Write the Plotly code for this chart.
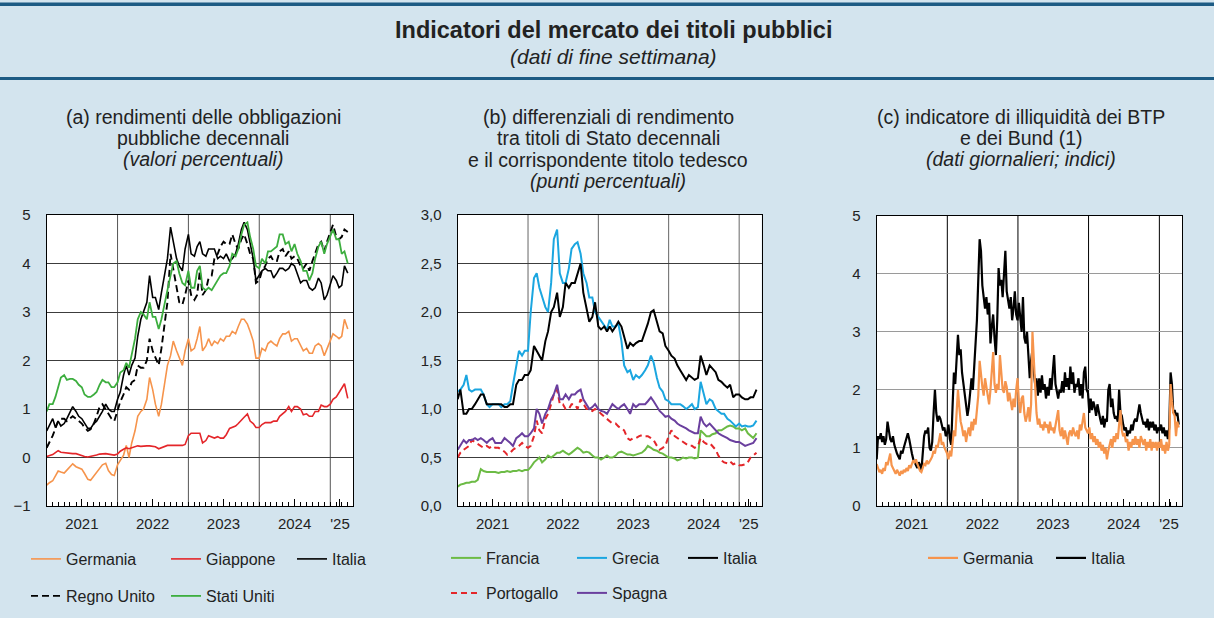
import plotly.graph_objects as go
import pandas as pd

W, H = 1214, 618

# semi-monthly observation dates (1st and 15th of each month) for panels (a) and (b)
DATES = list(pd.date_range("2021-01-01", "2025-04-01", freq="SMS").strftime("%Y-%m-%d"))
# weekly observation dates for panel (c)
DATES_C = list(pd.date_range("2021-01-01", periods=224, freq="7D").strftime("%Y-%m-%d"))

# ---------------- panel (a): 10-year government bond yields (%) ----------------
A_GERMANIA = [
    -0.57, -0.52, -0.48, -0.38, -0.28, -0.30, -0.32, -0.26, -0.20, -0.13, -0.19, -0.22,
    -0.24, -0.33, -0.45, -0.47, -0.38, -0.30, -0.20, -0.15, -0.12, -0.27, -0.35, -0.37,
    -0.15, -0.05, 0.05, 0.25, 0.00, 0.30, 0.55, 0.85, 0.95, 1.00, 1.20, 1.65,
    1.40, 1.10, 0.85, 1.10, 1.55, 1.90, 2.10, 2.40, 2.20, 2.05, 1.90, 2.20,
    2.45, 2.20, 2.25, 2.45, 2.70, 2.20, 2.30, 2.45, 2.30, 2.40, 2.35, 2.45,
    2.40, 2.50, 2.50, 2.60, 2.55, 2.70, 2.85, 2.85, 2.75, 2.60, 2.40, 2.05,
    2.05, 2.25, 2.20, 2.35, 2.40, 2.35, 2.30, 2.45, 2.55, 2.55, 2.60, 2.40,
    2.45, 2.45, 2.30, 2.20, 2.25, 2.15, 2.15, 2.30, 2.35, 2.30, 2.10, 2.25,
    2.40, 2.55, 2.50, 2.45, 2.50, 2.85, 2.65]
A_GIAPPONE = [
    0.02, 0.04, 0.06, 0.10, 0.14, 0.11, 0.10, 0.09, 0.09, 0.08, 0.08, 0.06,
    0.05, 0.02, 0.01, 0.02, 0.03, 0.05, 0.07, 0.08, 0.08, 0.07, 0.06, 0.05,
    0.07, 0.13, 0.17, 0.20, 0.18, 0.20, 0.22, 0.24, 0.23, 0.24, 0.24, 0.24,
    0.23, 0.22, 0.18, 0.20, 0.24, 0.25, 0.25, 0.25, 0.25, 0.25, 0.25, 0.27,
    0.45, 0.50, 0.50, 0.50, 0.50, 0.30, 0.35, 0.45, 0.42, 0.40, 0.43, 0.40,
    0.40, 0.47, 0.60, 0.62, 0.65, 0.70, 0.78, 0.83, 0.90, 0.75, 0.70, 0.62,
    0.62, 0.68, 0.72, 0.72, 0.72, 0.75, 0.75, 0.85, 0.90, 0.95, 1.05, 0.95,
    1.05, 1.05, 1.00, 0.88, 0.90, 0.85, 0.85, 0.95, 0.95, 1.08, 1.05, 1.05,
    1.10, 1.20, 1.25, 1.35, 1.45, 1.52, 1.22]
A_ITALIA = [
    0.55, 0.65, 0.80, 0.62, 0.75, 0.65, 0.70, 0.80, 0.95, 1.05, 0.95, 0.85,
    0.80, 0.70, 0.60, 0.60, 0.70, 0.75, 0.85, 0.95, 1.10, 1.00, 0.95, 0.95,
    1.20, 1.35, 1.70, 1.90, 1.70, 1.90, 2.05, 2.50, 2.85, 3.00, 3.20, 3.75,
    3.30, 3.30, 3.05, 3.40, 3.80, 4.10, 4.75, 4.45, 4.10, 3.95, 3.85, 4.30,
    4.60, 4.20, 4.15, 4.35, 4.45, 4.20, 4.15, 4.30, 4.30, 4.30, 4.10, 4.15,
    4.10, 4.20, 4.05, 4.10, 4.20, 4.40, 4.70, 4.85, 4.70, 4.40, 4.10, 3.65,
    3.75, 3.85, 3.90, 3.85, 3.85, 3.70, 3.80, 3.90, 3.90, 3.85, 3.90, 4.00,
    3.95, 3.80, 3.60, 3.65, 3.65, 3.50, 3.45, 3.50, 3.70, 3.60, 3.25, 3.35,
    3.55, 3.75, 3.65, 3.50, 3.55, 3.95, 3.80]
A_REGNO_UNITO = [
    0.20, 0.30, 0.45, 0.60, 0.75, 0.80, 0.80, 0.75, 0.80, 0.85, 0.80, 0.75,
    0.70, 0.62, 0.55, 0.58, 0.70, 0.85, 1.05, 1.10, 1.00, 0.90, 0.80, 0.75,
    0.95, 1.15, 1.30, 1.45, 1.40, 1.55, 1.60, 1.90, 1.85, 1.85, 2.00, 2.45,
    2.20, 2.05, 1.90, 2.25, 2.80, 3.20, 4.20, 3.90, 3.55, 3.20, 3.15, 3.35,
    3.65, 3.35, 3.25, 3.35, 3.85, 3.35, 3.45, 3.70, 3.75, 4.10, 4.20, 4.35,
    4.45, 4.40, 4.40, 4.60, 4.40, 4.30, 4.50, 4.60, 4.40, 4.20, 4.10, 3.60,
    3.65, 3.85, 3.95, 4.10, 4.15, 4.05, 4.05, 4.25, 4.30, 4.15, 4.25, 4.10,
    4.15, 4.10, 3.95, 3.90, 4.00, 3.85, 4.05, 4.20, 4.40, 4.45, 4.25, 4.45,
    4.65, 4.80, 4.55, 4.50, 4.55, 4.70, 4.65]
A_STATI_UNITI = [
    0.95, 1.10, 1.10, 1.25, 1.45, 1.65, 1.70, 1.60, 1.62, 1.62, 1.58, 1.50,
    1.45, 1.30, 1.25, 1.25, 1.30, 1.35, 1.50, 1.60, 1.55, 1.55, 1.45, 1.45,
    1.55, 1.75, 1.80, 1.95, 1.85, 2.15, 2.45, 2.85, 3.00, 2.95, 2.85, 3.20,
    2.90, 2.90, 2.65, 2.85, 3.15, 3.45, 3.75, 4.00, 4.05, 3.80, 3.60, 3.55,
    3.85, 3.50, 3.50, 3.85, 3.95, 3.50, 3.45, 3.50, 3.45, 3.55, 3.65, 3.75,
    3.80, 3.80, 3.95, 4.20, 4.15, 4.30, 4.60, 4.80, 4.85, 4.55, 4.30, 3.95,
    3.90, 4.10, 4.00, 4.25, 4.25, 4.30, 4.35, 4.60, 4.60, 4.40, 4.45, 4.25,
    4.40, 4.20, 4.05, 3.85, 3.85, 3.65, 3.80, 4.10, 4.35, 4.45, 4.20, 4.40,
    4.55, 4.70, 4.50, 4.50, 4.20, 4.25, 4.00]

# ---------------- panel (b): spreads vs German Bund (percentage points) ----------------
B_FRANCIA = [
    0.20, 0.22, 0.23, 0.24, 0.24, 0.25, 0.25, 0.27, 0.38, 0.36, 0.35, 0.35,
    0.35, 0.35, 0.34, 0.35, 0.35, 0.36, 0.35, 0.36, 0.36, 0.37, 0.36, 0.37,
    0.37, 0.40, 0.45, 0.48, 0.50, 0.45, 0.48, 0.52, 0.50, 0.52, 0.55, 0.55,
    0.57, 0.55, 0.53, 0.55, 0.58, 0.60, 0.58, 0.55, 0.56, 0.55, 0.52, 0.50,
    0.50, 0.48, 0.50, 0.52, 0.50, 0.50, 0.52, 0.55, 0.56, 0.55, 0.53, 0.53,
    0.52, 0.53, 0.54, 0.55, 0.58, 0.62, 0.60, 0.58, 0.57, 0.55, 0.54, 0.52,
    0.50, 0.50, 0.49, 0.47, 0.48, 0.50, 0.49, 0.50, 0.50, 0.49, 0.50, 0.78,
    0.75, 0.72, 0.72, 0.74, 0.75, 0.78, 0.78, 0.80, 0.82, 0.83, 0.82, 0.80,
    0.80, 0.78, 0.80, 0.75, 0.72, 0.70, 0.75]
B_GRECIA = [
    1.18, 1.20, 1.25, 1.35, 1.20, 1.18, 1.20, 1.20, 1.20, 1.15, 1.05, 1.02,
    1.05, 1.05, 1.05, 1.02, 1.05, 1.05, 1.08, 1.25, 1.45, 1.60, 1.55, 1.60,
    1.60, 2.00, 2.35, 2.40, 2.25, 2.15, 2.05, 2.00, 2.30, 2.75, 2.85, 2.40,
    2.30, 2.30, 2.45, 2.65, 2.70, 2.72, 2.60, 2.40, 2.30, 2.15, 2.15, 2.00,
    1.95, 1.90, 1.85, 1.82, 1.92, 1.85, 1.85, 1.88, 1.70, 1.45, 1.38, 1.40,
    1.30, 1.35, 1.32, 1.35, 1.40, 1.45, 1.55, 1.48, 1.32, 1.22, 1.18, 1.10,
    1.08, 1.05, 1.05, 1.05, 1.05, 1.03, 1.00, 1.02, 1.05, 1.00, 1.02, 1.28,
    1.15, 1.05, 1.10, 1.08, 1.00, 0.98, 0.95, 0.95, 0.90, 0.88, 0.85, 0.82,
    0.85, 0.82, 0.83, 0.82, 0.82, 0.83, 0.88]
B_ITALIA = [
    1.10, 1.20, 0.95, 0.95, 1.00, 1.00, 1.05, 1.10, 1.15, 1.15, 1.05, 1.05,
    1.05, 1.05, 1.05, 1.05, 1.02, 1.02, 1.05, 1.05, 1.25, 1.30, 1.30, 1.35,
    1.35, 1.40, 1.65, 1.60, 1.55, 1.50, 1.70, 1.80, 2.00, 2.05, 2.20, 1.95,
    2.05, 2.30, 2.25, 2.30, 2.30, 2.40, 2.50, 2.20, 2.05, 1.90, 1.95, 2.10,
    1.85, 1.82, 1.85, 1.80, 1.85, 1.80, 1.85, 1.90, 1.85, 1.75, 1.62, 1.68,
    1.65, 1.68, 1.70, 1.70, 1.80, 1.88, 2.00, 2.02, 1.90, 1.80, 1.78, 1.65,
    1.60, 1.55, 1.52, 1.45, 1.40, 1.35, 1.30, 1.35, 1.32, 1.30, 1.32, 1.55,
    1.45, 1.35, 1.45, 1.42, 1.38, 1.30, 1.28, 1.25, 1.22, 1.25, 1.12, 1.15,
    1.15, 1.12, 1.10, 1.10, 1.12, 1.12, 1.20]
B_PORTOGALLO = [
    0.50, 0.55, 0.58, 0.60, 0.62, 0.68, 0.66, 0.64, 0.62, 0.60, 0.62, 0.60,
    0.62, 0.60, 0.60, 0.58, 0.56, 0.53, 0.55, 0.58, 0.60, 0.62, 0.65, 0.62,
    0.60, 0.62, 0.72, 0.88, 0.78, 0.75, 0.90, 0.95, 1.05, 1.15, 1.20, 1.05,
    1.05, 1.00, 1.00, 1.05, 1.05, 1.00, 1.10, 1.05, 1.00, 1.00, 0.98, 1.00,
    0.98, 0.95, 0.92, 0.90, 0.88, 0.85, 0.85, 0.82, 0.80, 0.78, 0.70, 0.68,
    0.70, 0.70, 0.72, 0.73, 0.72, 0.72, 0.70, 0.68, 0.62, 0.58, 0.60, 0.62,
    0.72, 0.78, 0.72, 0.70, 0.68, 0.66, 0.64, 0.62, 0.62, 0.60, 0.62, 0.70,
    0.66, 0.64, 0.65, 0.62, 0.58, 0.52, 0.47, 0.45, 0.44, 0.46, 0.43, 0.44,
    0.42, 0.42, 0.43, 0.45, 0.50, 0.52, 0.55]
B_SPAGNA = [
    0.58, 0.62, 0.68, 0.65, 0.68, 0.68, 0.70, 0.68, 0.70, 0.68, 0.65, 0.68,
    0.70, 0.65, 0.65, 0.65, 0.70, 0.68, 0.65, 0.62, 0.70, 0.72, 0.75, 0.72,
    0.72, 0.75, 0.80, 1.00, 0.95, 0.85, 0.95, 1.00, 1.10, 1.15, 1.25, 1.10,
    1.10, 1.15, 1.10, 1.15, 1.15, 1.18, 1.20, 1.10, 1.05, 1.00, 1.02, 1.05,
    1.00, 0.98, 0.97, 0.95, 1.00, 1.05, 1.02, 1.00, 1.03, 1.05, 1.00, 0.95,
    1.05, 1.02, 1.05, 1.05, 1.05, 1.08, 1.12, 1.08, 1.02, 0.98, 0.95, 0.92,
    0.93, 0.90, 0.88, 0.85, 0.83, 0.82, 0.80, 0.78, 0.76, 0.75, 0.75, 0.92,
    0.85, 0.82, 0.85, 0.82, 0.78, 0.75, 0.73, 0.72, 0.70, 0.68, 0.67, 0.66,
    0.66, 0.64, 0.62, 0.63, 0.64, 0.65, 0.70]

# ---------------- panel (c): illiquidity indicator (index), weekly readings ----------------
C_GERMANIA = [
    # 2021
    0.72, 0.65, 0.58, 0.62, 0.55, 0.65, 0.60, 0.75, 0.70, 0.80, 0.90, 0.70, 0.65,
    0.60, 0.55, 0.62, 0.58, 0.52, 0.60, 0.55, 0.62, 0.58, 0.65, 0.60, 0.70, 0.65,
    0.72, 0.78, 0.75, 0.80, 0.72, 0.65, 0.60, 0.58, 0.65, 0.72, 0.70, 0.78, 0.72,
    0.75, 0.80, 0.85, 0.95, 0.90, 1.05, 1.00, 1.15, 1.25, 1.05, 1.10, 1.00, 0.95,
    # 2022
    0.90, 0.80, 0.95, 0.85, 1.10, 1.30, 1.20, 1.60, 2.00, 1.70, 1.45, 1.35, 1.20,
    1.30, 1.10, 1.25, 1.35, 1.20, 1.45, 1.30, 1.50, 1.40, 1.65, 1.90, 2.50, 2.20,
    2.05, 1.90, 2.20, 2.05, 1.85, 1.75, 2.00, 2.30, 2.65, 2.10, 1.95, 2.10, 2.00,
    2.60, 2.30, 2.00, 1.95, 2.15, 2.05, 1.80, 1.95, 1.75, 1.65, 1.85, 1.70, 2.00,
    # 2023
    2.20, 1.80, 1.60, 1.85, 1.90, 1.60, 1.45, 1.55, 1.70, 1.45, 1.75, 3.00, 2.50,
    2.10, 1.60, 1.40, 1.50, 1.35, 1.40, 1.30, 1.45, 1.35, 1.40, 1.25, 1.45, 1.30,
    1.35, 1.25, 1.40, 1.55, 1.65, 1.30, 1.20, 1.35, 1.15, 1.30, 1.20, 1.05, 1.25,
    1.30, 1.20, 1.35, 1.25, 1.20, 1.30, 1.15, 1.40, 1.30, 1.45, 1.60, 1.35, 1.30,
    # 2024
    1.25, 1.35, 1.15, 1.25, 1.10, 1.20, 1.05, 1.15, 1.00, 1.10, 0.95, 1.05, 0.90,
    1.00, 0.80, 0.95, 1.05, 1.15, 1.00, 1.20, 1.10, 1.25, 1.15, 1.35, 1.65, 1.30,
    1.20, 1.25, 1.10, 1.15, 0.95, 1.10, 1.00, 1.15, 1.05, 1.20, 1.05, 1.15, 1.00,
    1.20, 1.10, 1.05, 1.15, 0.95, 1.10, 1.00, 1.15, 0.95, 1.10, 1.00, 1.10, 0.95,
    # 2025
    1.10, 1.00, 1.15, 0.95, 1.05, 0.90, 1.10, 0.95, 1.05, 2.10, 1.80, 1.60, 1.55,
    1.20, 1.45, 1.35]
C_ITALIA = [
    # 2021
    0.80, 1.20, 1.15, 1.25, 1.10, 1.20, 1.05, 1.15, 1.45, 1.30, 1.15, 1.10, 1.20,
    1.05, 0.95, 0.90, 0.85, 0.80, 0.95, 0.90, 1.00, 1.10, 1.20, 1.25, 1.15, 1.00,
    0.90, 0.80, 0.75, 0.70, 0.65, 0.75, 0.70, 0.60, 0.90, 1.20, 1.30, 1.25, 1.35,
    1.00, 0.95, 1.10, 1.60, 2.00, 1.60, 1.45, 1.55, 1.50, 1.40, 1.30, 1.35, 1.20,
    # 2022
    1.25, 1.40, 1.15, 1.05, 1.70, 2.30, 2.10, 2.50, 2.95, 2.60, 2.70, 2.30, 2.10,
    2.00, 1.75, 1.55, 1.70, 2.00, 2.20, 2.00, 2.50, 2.80, 3.20, 3.90, 4.60, 4.40,
    3.80, 3.60, 3.40, 3.60, 3.30, 3.50, 2.80, 3.10, 3.30, 2.90, 2.60, 3.20, 4.10,
    3.80, 3.90, 3.60, 4.00, 4.40, 3.70, 3.50, 3.40, 3.60, 3.20, 3.40, 3.70, 3.30,
    # 2023
    3.20, 3.50, 3.30, 3.00, 3.60, 2.90, 2.80, 3.00, 2.60, 2.20, 2.50, 2.70, 2.30,
    2.10, 2.20, 1.90, 2.20, 1.95, 2.25, 2.00, 2.10, 1.85, 2.05, 1.90, 2.20, 2.00,
    2.30, 2.60, 2.10, 2.00, 1.85, 2.00, 1.95, 2.15, 1.95, 2.30, 2.05, 2.20, 2.00,
    2.40, 2.10, 2.30, 1.95, 2.10, 2.05, 2.20, 1.90, 2.10, 1.85, 2.30, 2.40, 2.00,
    # 2024
    1.95, 1.60, 1.85, 1.65, 1.80, 1.70, 1.55, 1.75, 1.60, 1.50, 1.40, 1.55, 1.35,
    1.50, 1.45, 2.00, 2.10, 1.70, 1.85, 1.60, 1.50, 1.55, 1.45, 2.00, 1.60, 1.55,
    1.40, 1.30, 1.35, 1.20, 1.30, 1.25, 1.40, 1.30, 1.45, 1.50, 1.45, 1.65, 1.75,
    1.60, 1.50, 1.40, 1.45, 1.35, 1.50, 1.30, 1.45, 1.35, 1.45, 1.30, 1.40, 1.25,
    # 2025
    1.35, 1.30, 1.40, 1.25, 1.35, 1.20, 1.30, 1.15, 1.35, 2.30, 2.10, 1.60, 1.65,
    1.55, 1.60, 1.40]

for _s in (A_GERMANIA, A_GIAPPONE, A_ITALIA, A_REGNO_UNITO, A_STATI_UNITI,
           B_FRANCIA, B_GRECIA, B_ITALIA, B_PORTOGALLO, B_SPAGNA):
    assert len(_s) == len(DATES), (len(_s), len(DATES))
for _s in (C_GERMANIA, C_ITALIA):
    assert len(_s) == len(DATES_C), (len(_s), len(DATES_C))

# axes / ticks
YEAR_LINES = ["2022-01-01", "2023-01-01", "2024-01-01", "2025-01-01"]
X_TICKVALS = ["2021-07-01", "2022-07-01", "2023-07-01", "2024-07-01", "2025-02-20"]
X_TICKTEXT = ["2021", "2022", "2023", "2024", "'25"]
X_RANGE = ["2021-01-01", "2025-04-28"]
A_YTICKS = [-1, 0, 1, 2, 3, 4, 5]
B_YTICKS = [0.0, 0.5, 1.0, 1.5, 2.0, 2.5, 3.0]
C_YTICKS = [0, 1, 2, 3, 4, 5]

# styling
BG = "#d3e4ee"
DARK = "#1d5b84"
FONT = "Liberation Sans, Arial, Helvetica, sans-serif"
TXT = "#222222"
ORANGE = "#f6944c"
RED = "#e4262a"
GREEN_US = "#3dae3f"
GREEN_FR = "#6cbb45"
BLUE = "#1ba6e0"
PURPLE = "#6a3f9e"


def fx(px):
    return px / W


def fy(px):
    return 1 - px / H


PANELS = [
    dict(key="a", x0=46.7, x1=353.0, y0=215.0, y1=506.0, xa="x", ya="y",
         yticks=A_YTICKS, yrange=[-1, 5], fmt="d", hgrid="#3c3c3c", vgrid="#555555"),
    dict(key="b", x0=457.7, x1=761.7, y0=215.0, y1=506.0, xa="x2", ya="y2",
         yticks=B_YTICKS, yrange=[0, 3], fmt=".1f", hgrid="#3c3c3c", vgrid="#666666"),
    dict(key="c", x0=876.7, x1=1182.0, y0=216.0, y1=505.7, xa="x3", ya="y3",
         yticks=C_YTICKS, yrange=[0, 5], fmt="d", hgrid="#9a9a9a", vgrid="#000000"),
]

# (panel, name, dates, values, color, dash, width, legend id, legend line-start x, legend y)
SERIES = [
    ("a", "Germania", DATES, A_GERMANIA, ORANGE, "solid", 1.6, 1, 33, 559),
    ("a", "Giappone", DATES, A_GIAPPONE, RED, "solid", 1.6, 2, 173, 559),
    ("a", "Regno Unito", DATES, A_REGNO_UNITO, "#000000", "7px,4px", 1.9, 4, 33, 596),
    ("a", "Italia", DATES, A_ITALIA, "#000000", "solid", 1.6, 3, 299, 559),
    ("a", "Stati Uniti", DATES, A_STATI_UNITI, GREEN_US, "solid", 1.8, 5, 173, 596),
    ("b", "Francia", DATES, B_FRANCIA, GREEN_FR, "solid", 2.0, 6, 453, 558),
    ("b", "Portogallo", DATES, B_PORTOGALLO, RED, "6px,4px", 2.0, 9, 453, 593),
    ("b", "Spagna", DATES, B_SPAGNA, PURPLE, "solid", 2.0, 10, 579, 593),
    ("b", "Grecia", DATES, B_GRECIA, BLUE, "solid", 2.0, 7, 579, 558),
    ("b", "Italia", DATES, B_ITALIA, "#000000", "solid", 2.0, 8, 690, 558),
    ("c", "Italia", DATES_C, C_ITALIA, "#000000", "solid", 2.2, 12, 1058, 558),
    ("c", "Germania", DATES_C, C_GERMANIA, ORANGE, "solid", 2.2, 11, 930, 558),
]

fig = go.Figure()
pmap = {p["key"]: p for p in PANELS}

for pk, name, xs, vals, col, dash, wid, lid, lx, ly in SERIES:
    p = pmap[pk]
    lname = "legend" if lid == 1 else f"legend{lid}"
    fig.add_trace(go.Scatter(
        x=xs, y=vals, mode="lines", name=name,
        line=dict(color=col, width=wid, dash=dash),
        xaxis=p["xa"], yaxis=p["ya"], legend=lname, showlegend=True,
        hoverinfo="skip"))
    fig.update_layout({lname: dict(
        x=fx(lx - 7), y=fy(ly), xanchor="left", yanchor="middle",
        bgcolor="rgba(0,0,0,0)", borderwidth=0,
        font=dict(family=FONT, size=16, color=TXT), itemwidth=30,
        orientation="v", itemclick=False, itemdoubleclick=False)})

layout = dict(
    width=W, height=H, autosize=False,
    margin=dict(l=0, r=0, t=0, b=0, pad=0, autoexpand=False),
    paper_bgcolor=BG, plot_bgcolor="#ffffff",
    font=dict(family=FONT, size=15, color=TXT),
    separators=",.",
    showlegend=True,
)

for i, p in enumerate(PANELS):
    n = "" if i == 0 else str(i + 1)
    xd = [fx(p["x0"]), fx(p["x1"])]
    yd = [fy(p["y1"]), fy(p["y0"])]
    layout["xaxis" + n] = dict(
        domain=xd, anchor=p["ya"], range=X_RANGE, type="date",
        tickmode="array", tickvals=X_TICKVALS, ticktext=X_TICKTEXT,
        ticks="inside", ticklen=7, tickwidth=1, tickcolor="#000000",
        minor=dict(ticks="inside", ticklen=4, tickwidth=1, tickcolor="#000000",
                   dtick="M1", tick0="2021-01-01", showgrid=False),
        showgrid=False, zeroline=False, automargin=False,
        showline=True, linecolor="#000000", linewidth=1.2, mirror=True,
        tickfont=dict(family=FONT, size=15, color=TXT), ticklabelstandoff=4,
        fixedrange=True)
    layout["yaxis" + n] = dict(
        domain=yd, anchor=p["xa"], range=p["yrange"],
        tickmode="array", tickvals=p["yticks"], tickformat=p["fmt"],
        ticks="", showgrid=True, gridcolor=p["hgrid"], gridwidth=1,
        zeroline=False, showline=True, linecolor="#000000", linewidth=1.2,
        mirror=True, tickfont=dict(family=FONT, size=15, color=TXT),
        ticklabelstandoff=12, fixedrange=True, automargin=False)
    layout["yaxis" + str(i + 4)] = dict(
        overlaying=p["ya"], anchor=p["xa"], side="right", range=p["yrange"],
        tickmode="array", tickvals=p["yticks"], tickformat=p["fmt"],
        ticks="", showgrid=False, zeroline=False, showline=False,
        tickfont=dict(family=FONT, size=15, color=TXT),
        ticklabelstandoff=14, fixedrange=True, automargin=False)

fig.update_layout(**layout)

shapes = []
# header band lines
shapes.append(dict(type="rect", xref="paper", yref="paper", x0=0, x1=1,
                   y0=fy(6), y1=fy(2.5), fillcolor=DARK, line=dict(width=0)))
shapes.append(dict(type="rect", xref="paper", yref="paper", x0=0, x1=1,
                   y0=fy(80), y1=fy(77), fillcolor=DARK, line=dict(width=0)))
# vertical year separators in each panel
for p in PANELS:
    for d in YEAR_LINES:
        shapes.append(dict(type="line", xref=p["xa"], yref=p["ya"] + " domain",
                           x0=d, x1=d, y0=0, y1=1, layer="below",
                           line=dict(color=p["vgrid"], width=1)))
fig.update_layout(shapes=shapes)

ann = []
ann.append(dict(text="<b>Indicatori del mercato dei titoli pubblici</b>",
                x=fx(613), y=fy(30), xref="paper", yref="paper", showarrow=False,
                xanchor="center", yanchor="middle",
                font=dict(family=FONT, size=23.5, color=TXT)))
ann.append(dict(text="<i>(dati di fine settimana)</i>",
                x=fx(613), y=fy(57), xref="paper", yref="paper", showarrow=False,
                xanchor="center", yanchor="middle",
                font=dict(family=FONT, size=21, color=TXT)))

PANEL_TITLES = [
    (203, ["(a) rendimenti delle obbligazioni", "pubbliche decennali",
           "<i>(valori percentuali)</i>"], [117, 138, 159]),
    (608, ["(b) differenziali di rendimento", "tra titoli di Stato decennali",
           "e il corrispondente titolo tedesco", "<i>(punti percentuali)</i>"],
     [117, 138, 160, 181]),
    (1021, ["(c) indicatore di illiquidità dei BTP", "e dei Bund (1)",
            "<i>(dati giornalieri; indici)</i>"], [117, 138, 159]),
]
for cx, lines, ys in PANEL_TITLES:
    for t, yy in zip(lines, ys):
        ann.append(dict(text=t, x=fx(cx), y=fy(yy), xref="paper", yref="paper",
                        showarrow=False, xanchor="center", yanchor="middle",
                        font=dict(family=FONT, size=19.5, color=TXT)))
fig.update_layout(annotations=ann)

fig.write_html("out.html", config={"displayModeBar": False},
               post_script="document.body.style.margin='0px';"
                           "document.body.style.overflow='hidden';")
